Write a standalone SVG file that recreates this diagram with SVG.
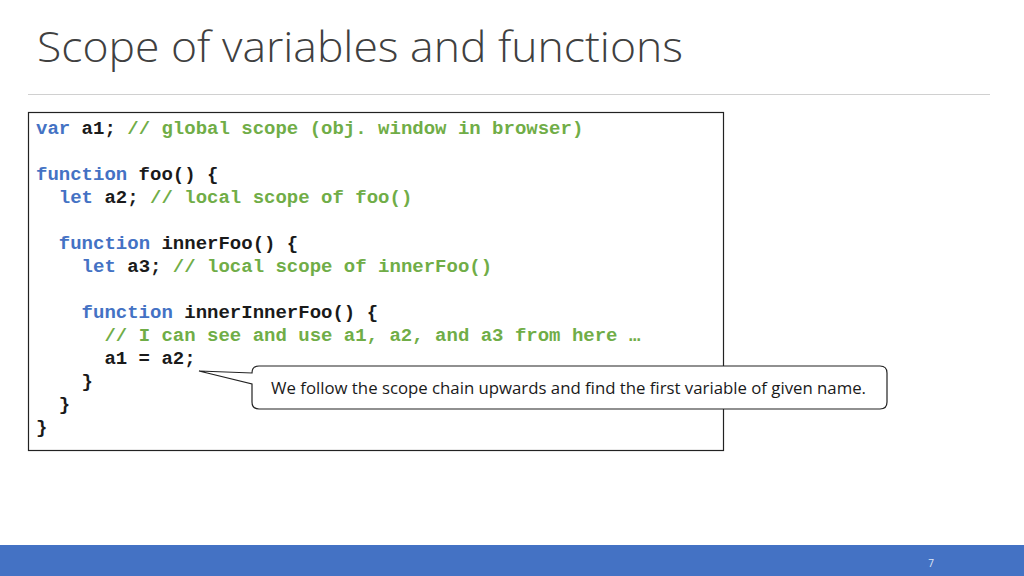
<svg xmlns="http://www.w3.org/2000/svg" width="1024" height="576" viewBox="0 0 1024 576">
<style>
.c{font-family:"Liberation Mono","Courier New",monospace;font-size:19px;font-weight:bold;fill:#1a1a1a;white-space:pre}
.k{fill:#4472C4}.g{fill:#70AD47}
</style>
<rect width="1024" height="576" fill="#fff"/>
<text x="37" y="62" font-family="Open Sans, sans-serif" font-size="42" fill="#404040" font-weight="300" textLength="646" lengthAdjust="spacingAndGlyphs">Scope of variables and functions</text>
<line x1="28" y1="94.5" x2="990" y2="94.5" stroke="#d0d0d0" stroke-width="1"/>
<g id="code">
<rect x="28.5" y="112.5" width="695" height="338" fill="#fff" stroke="#222" stroke-width="1.2"/>
<text class="c" x="36" y="134"><tspan class="k">var</tspan> a1; <tspan class="g">// global scope (obj. window in browser)</tspan></text>
<text class="c" x="36" y="180"><tspan class="k">function</tspan> foo() {</text>
<text class="c" x="36" y="203">  <tspan class="k">let</tspan> a2; <tspan class="g">// local scope of foo()</tspan></text>
<text class="c" x="36" y="249">  <tspan class="k">function</tspan> innerFoo() {</text>
<text class="c" x="36" y="272">    <tspan class="k">let</tspan> a3; <tspan class="g">// local scope of innerFoo()</tspan></text>
<text class="c" x="36" y="318">    <tspan class="k">function</tspan> innerInnerFoo() {</text>
<text class="c" x="36" y="341">      <tspan class="g">// I can see and use a1, a2, and a3 from here …</tspan></text>
<text class="c" x="36" y="364">      a1 = a2;</text>
<text class="c" x="36" y="387">    }</text>
<text class="c" x="36" y="410">  }</text>
<text class="c" x="36" y="433">}</text>
</g>
<g id="callout">
<path d="M259,366 H880 Q887,366 887,373 V402 Q887,409 880,409 H259 Q252,409 252,402 V384 L199,371 L252,373 Q252,366 259,366 Z" fill="#fff" stroke="#222" stroke-width="1.2"/>
<text x="271" y="394" font-family="Open Sans, sans-serif" font-size="16" fill="#1a1a1a" textLength="595" lengthAdjust="spacingAndGlyphs">We follow the scope chain upwards and find the first variable of given name.</text>
</g>
<rect x="0" y="545" width="1024" height="31" fill="#4472C4"/>
<text x="931" y="567" font-family="Open Sans, sans-serif" font-size="10" fill="#e0e8f5" text-anchor="middle">7</text>
</svg>
